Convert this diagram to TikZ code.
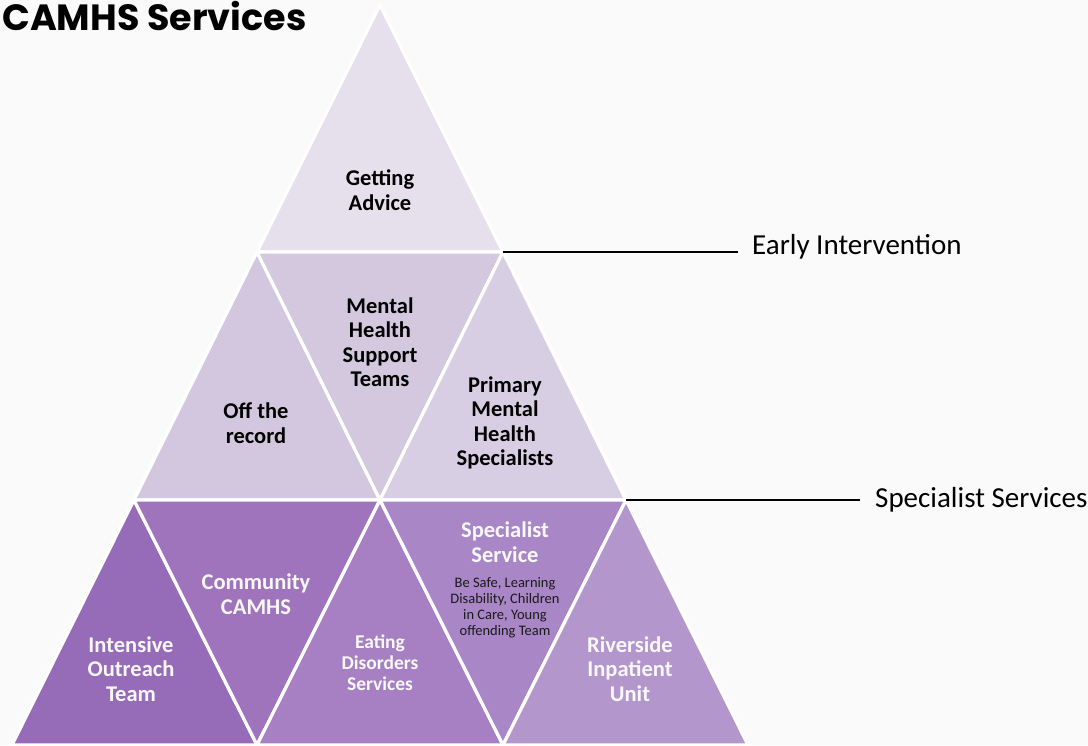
\documentclass[tikz,border=0pt]{standalone}
\usepackage{fontspec}
\setmainfont{Carlito}
\newfontfamily\titlefont{Poppins}
\definecolor{bg}{HTML}{FAFAFA}
\definecolor{cTop}{HTML}{E6E0ED}
\definecolor{cOff}{HTML}{D3C7DF}
\definecolor{cMHST}{HTML}{D3C8DE}
\definecolor{cPMHS}{HTML}{D8CEE3}
\definecolor{cIOT}{HTML}{966BB7}
\definecolor{cCom}{HTML}{9F74BC}
\definecolor{cEat}{HTML}{A680C2}
\definecolor{cSpec}{HTML}{A986C5}
\definecolor{cRiv}{HTML}{B396CC}
\definecolor{wtext}{HTML}{F8F8F8}
\definecolor{dtext}{HTML}{1A1A1A}
\begin{document}
\begin{tikzpicture}[x=1pt,y=-1pt,
  tri/.style={draw=white,line width=3.2pt,line join=round},
  lbl/.style={align=center,inner sep=0pt,font=\bfseries\fontsize{22.5}{24.5}\selectfont,text=black},
  wlbl/.style={lbl,text=wtext},
  slbl/.style={align=center,inner sep=0pt,font=\fontsize{14.5}{16}\selectfont,text=dtext},
  side/.style={anchor=west,inner sep=0pt,font=\fontsize{29}{32}\selectfont,text=black},
  leader/.style={draw=black,line width=1.3pt}]
\fill[bg] (0,0) rectangle (1088,745);
\useasboundingbox (0,0) rectangle (1088,745);
% vertices
\coordinate (A) at (380,5);
\coordinate (L1) at (257,252);
\coordinate (R1) at (503,252);
\coordinate (L2) at (134,500);
\coordinate (M2) at (380,500);
\coordinate (R2) at (626,500);
\coordinate (B0) at (12,745);
\coordinate (B1) at (257,745);
\coordinate (B2) at (503,745);
\coordinate (B3) at (748,745);
% triangles
\filldraw[tri,fill=cTop] (A) -- (L1) -- (R1) -- cycle;
\filldraw[tri,fill=cOff] (L1) -- (L2) -- (M2) -- cycle;
\filldraw[tri,fill=cMHST] (L1) -- (R1) -- (M2) -- cycle;
\filldraw[tri,fill=cPMHS] (R1) -- (M2) -- (R2) -- cycle;
\filldraw[tri,fill=cIOT] (L2) -- (B0) -- (B1) -- cycle;
\filldraw[tri,fill=cCom] (L2) -- (M2) -- (B1) -- cycle;
\filldraw[tri,fill=cEat] (M2) -- (B1) -- (B2) -- cycle;
\filldraw[tri,fill=cSpec] (M2) -- (R2) -- (B2) -- cycle;
\filldraw[tri,fill=cRiv] (R2) -- (B2) -- (B3) -- cycle;
% title
\node[anchor=base west,inner sep=0pt,font=\titlefont\bfseries\fontsize{36.5}{40}\selectfont] (title) at (2,30) {CAMHS Services};
% labels
\node[lbl] (advice) at (380,190) {Getting\\Advice};
\node[lbl] (offrec) at (256,423) {Off the\\record};
\node[lbl] (mhst) at (380,342) {Mental\\Health\\Support\\Teams};
\node[lbl] (pmhs) at (505,423) {Primary\\Mental\\Health\\Specialists};
\node[wlbl] (iot) at (131,669) {Intensive\\Outreach\\Team};
\node[wlbl] (ccamhs) at (256,594) {Community\\CAMHS};
\node[wlbl,font=\bfseries\fontsize{19.5}{21}\selectfont] (eds) at (380,663) {Eating\\Disorders\\Services};
\node[wlbl] (spec) at (505,542) {Specialist\\Service};
\node[slbl] (specsub) at (505,608) {Be Safe, Learning\\Disability, Children\\in Care, Young\\offending Team};
\node[wlbl] (riv) at (630,669) {Riverside\\Inpatient\\Unit};
% side labels
\node[side] (ei) at (752,247) {Early Intervention};
\node[side] (ss) at (875,500) {Specialist Services};
\coordinate (E1) at (738,252);
\coordinate (E2) at (860,500);
\draw[leader] (R1) -- (E1);
\draw[leader] (R2) -- (E2);
\end{tikzpicture}
\end{document}
